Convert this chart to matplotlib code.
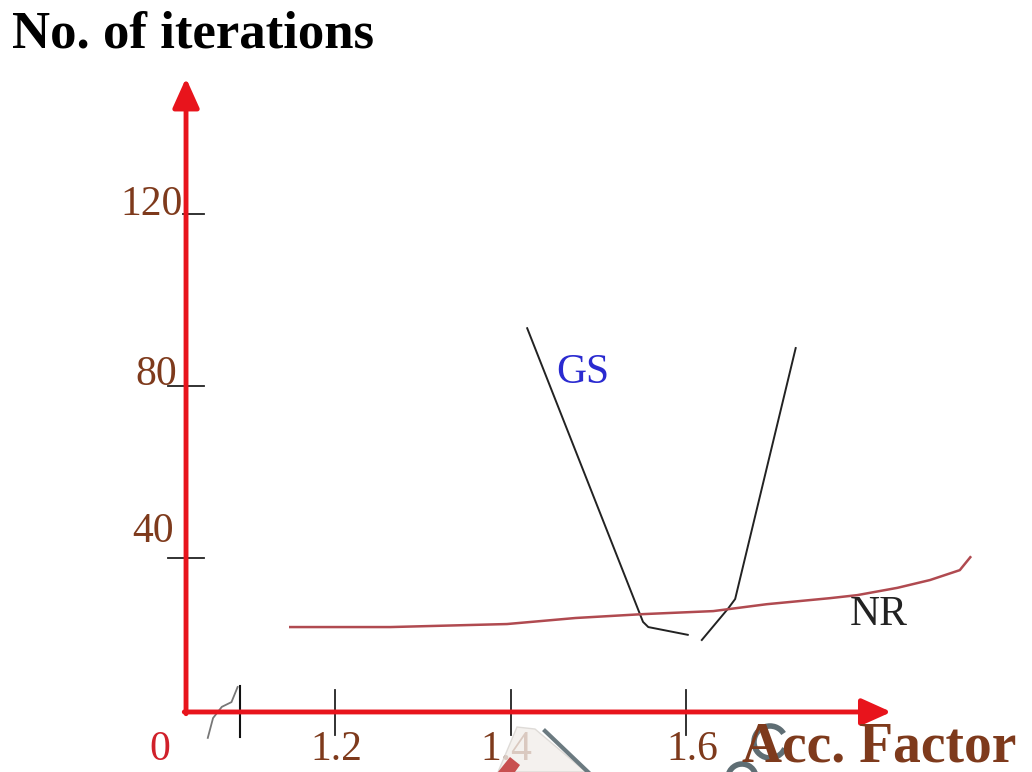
import numpy as np
import matplotlib.pyplot as plt
from matplotlib.patches import Polygon, Arc

# Iterations vs. acceleration factor
gs_left_x = [1.419, 1.551, 1.557, 1.602]
gs_left_y = [93.4, 25.3, 24.1, 22.3]
gs_right_x = [1.618, 1.648, 1.656, 1.725]
gs_right_y = [21.1, 28.4, 30.6, 88.8]

nr_x = [1.149, 1.263, 1.396, 1.474, 1.551, 1.631, 1.692, 1.764, 1.795, 1.841, 1.878, 1.912, 1.924]
nr_y = [24.1, 24.1, 24.8, 26.2, 27.1, 27.8, 29.4, 30.8, 31.5, 33.2, 35.0, 37.3, 40.3]

y_ticks = [40, 80, 120]
y_tick_labels = ['40', '80', '120']
x_ticks = [1.2, 1.4, 1.6]
x_tick_labels = ['1.2', '1.4', '1.6']

RED = '#e8141c'
BROWN = '#7e3a1c'
SERIF = ['Liberation Serif', 'DejaVu Serif']

fig = plt.figure(figsize=(10.32, 7.72), dpi=100)
ax = fig.add_axes([0, 0, 1, 1])
ax.set_xlim(0.8182, 1.9943)
ax.set_ylim(-9.51, 169.51)
ax.axis('off')

x0, y0 = 1.0302, 4.41  # where the two axes meet

# axes as red arrows
arrow = dict(arrowstyle='-|>,head_length=1.0,head_width=0.45', color=RED,
             lw=3.5, mutation_scale=18, shrinkA=0, shrinkB=0)
ax.annotate('', xy=(x0, 151.4), xytext=(x0, y0 - 0.4), arrowprops=arrow)
ax.annotate('', xy=(1.834, y0), xytext=(x0 - 0.002, y0), arrowprops=arrow)

# y ticks and labels
y_tick_start = {40: 1.0097, 80: 1.0097, 120: 1.0268}
y_label_pos = {40: (1.0160, 46.1), 80: (1.0205, 82.6), 120: (1.0270, 122.0)}
for t, lab in zip(y_ticks, y_tick_labels):
    ax.plot([y_tick_start[t], 1.0507], [t, t], color='#222222', lw=1.3)
    lx, ly = y_label_pos[t]
    ax.text(lx, ly, lab, ha='right', va='center', color=BROWN,
            fontsize=30, family=SERIF)

# x ticks and labels
x_label_pos = {1.2: 1.202, 1.4: 1.395, 1.6: 1.607}
for t, lab in zip(x_ticks, x_tick_labels):
    ax.plot([t, t], [9.5, -0.9], color='#222222', lw=1.3)
    ax.text(x_label_pos[t], -4.4, lab, ha='center', va='center', color=BROWN,
            fontsize=30, family=SERIF)
ax.text(1.0006, -4.4, '0', ha='center', va='center', color='#d0202a',
        fontsize=30, family=SERIF)

# axis break
ax.plot([1.055, 1.061, 1.071, 1.082, 1.089], [-1.6, 3.0, 5.6, 6.7, 10.2],
        color='#777777', lw=1.3)
ax.plot([1.0917, 1.0917], [10.4, -1.4], color='#111111', lw=1.5)

# curves
ax.plot(gs_left_x, gs_left_y, color='#222222', lw=1.4)
ax.plot(gs_right_x, gs_right_y, color='#222222', lw=1.4)
ax.plot(nr_x, nr_y, color='#b04a50', lw=1.8)

ax.text(1.4519, 80.7, 'GS', color='#2a2ad0', fontsize=30, family=SERIF,
        ha='left', va='baseline')
ax.text(1.7869, 24.6, 'NR', color='#222222', fontsize=30, family=SERIF,
        ha='left', va='baseline')

fig.text(12 / 1032, 1 - 47 / 772, 'No. of iterations', fontsize=38,
         fontweight='bold', family=SERIF, ha='left', va='baseline')
fig.text(742 / 1032, 1 - 762 / 772, 'Acc. Factor', fontsize=40,
         fontweight='bold', family=SERIF, color=BROWN, ha='left', va='baseline')

# pencil-like stamp at the bottom edge (pixel coordinates)
def px(x, y):
    return (x / 1032, 1 - y / 772)

tf = fig.transFigure
fig.patches.append(Polygon([px(517, 727), px(535, 729), px(586, 772), px(498, 772)],
                           closed=True, fc='#f2eeea', ec='#d8d4d0', lw=1,
                           alpha=0.8, transform=tf))
fig.patches.append(Polygon([px(498, 772), px(510, 757), px(520, 765), px(515, 772)],
                           closed=True, fc='#c85050', ec='none', transform=tf))
fig.lines.append(plt.Line2D([545 / 1032, 588 / 1032], [1 - 731 / 772, 1 - 772 / 772],
                            color='#6b7a80', lw=3, transform=tf))
fig.patches.append(Arc(px(770, 742), 32 / 1032, 32 / 772, theta1=40, theta2=330,
                       color='#5f6e74', lw=4, transform=tf))
fig.patches.append(Arc(px(742, 778), 28 / 1032, 28 / 772, theta1=20, theta2=200,
                       color='#5f6e74', lw=4, transform=tf))

fig.savefig('out.png', dpi=100)
